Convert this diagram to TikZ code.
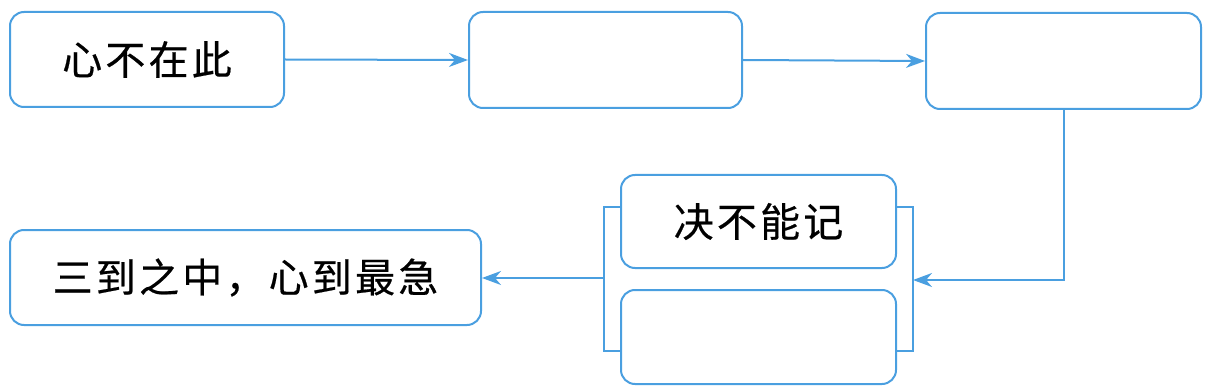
\documentclass[tikz,border=0pt]{standalone}
\usepackage{fontspec}
\newfontfamily\cjk[LetterSpace=8,FakeBold=0.5]{Noto Sans CJK SC}
\usetikzlibrary{arrows.meta}
\definecolor{lineblue}{HTML}{4A9FE0}
\begin{document}
\begin{tikzpicture}[x=1pt,y=-1pt,
  box/.style={draw=lineblue,line width=2pt,rounded corners=14pt,inner sep=0pt,font=\fontsize{40}{44}\selectfont\cjk},
  conn/.style={draw=lineblue,line width=2pt},
  arr/.style={conn,-{Stealth[length=19pt,width=14pt,inset=6pt]}}]
\useasboundingbox (0,0) rectangle (1212,390);
\node[box,minimum width=274pt,minimum height=95pt] (A) at (147,59.5) {心不在此};
\node[box,minimum width=273pt,minimum height=96pt] (B) at (605.5,60) {};
\node[box,minimum width=275pt,minimum height=96pt] (C) at (1063.5,61) {};
\node[box,minimum width=275pt,minimum height=93pt] (D) at (758.5,221.5) {决不能记};
\node[box,minimum width=275pt,minimum height=94pt] (E) at (758.5,337) {};
\node[box,minimum width=471pt,minimum height=95pt] (F) at (245.5,277.5) {三到之中，心到最急};
\coordinate (bl) at (604,278);
\coordinate (br) at (913,280);
\draw[conn] (D.west |- 0,207) -- (bl |- 0,207) -- (bl |- 0,351) -- (E.west |- 0,351);
\draw[conn] (D.east |- 0,207) -- (br |- 0,207) -- (br |- 0,351) -- (E.east |- 0,351);
\draw[arr] (A.east) -- (B.west);
\draw[arr] (B.east) -- (C.west);
\draw[arr] (C.south) -- (C.south |- br) -- (br);
\draw[arr] (bl) -- (F.east |- bl);
\end{tikzpicture}
\end{document}
